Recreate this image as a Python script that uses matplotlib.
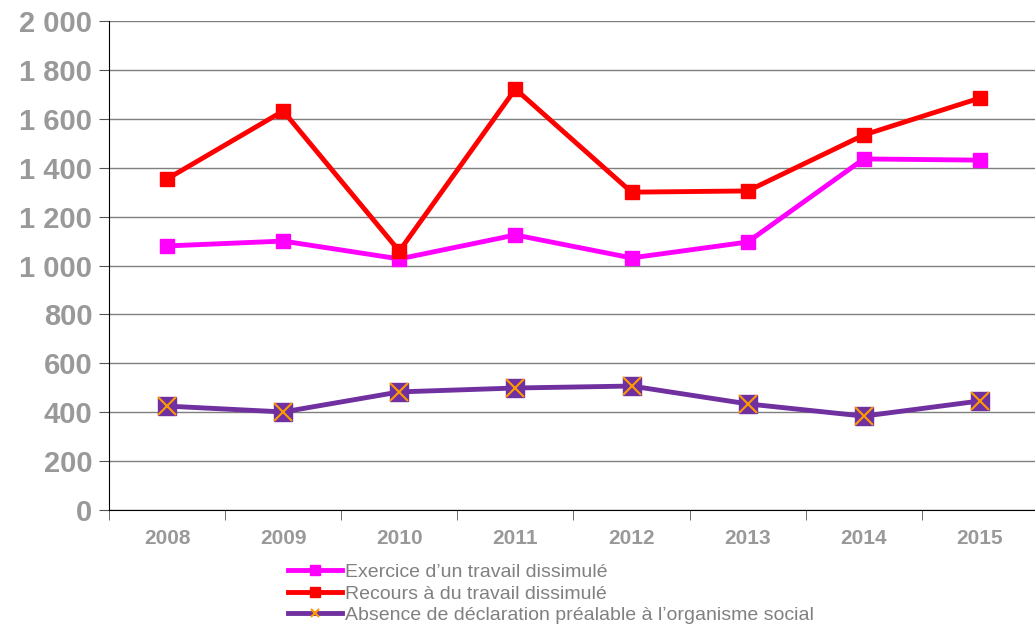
import matplotlib.pyplot as plt
from matplotlib.lines import Line2D
from matplotlib.ticker import FuncFormatter, FixedLocator

years = ["2008", "2009", "2010", "2011", "2012", "2013", "2014", "2015"]
exercice = [1080, 1100, 1027, 1125, 1031, 1096, 1436, 1431]
recours = [1354, 1632, 1059, 1722, 1300, 1305, 1534, 1685]
absence = [425, 401, 483, 499, 507, 434, 384, 446]

labels = ["Exercice d\u2019un travail dissimulé",
          "Recours à du travail dissimulé",
          "Absence de déclaration préalable à l\u2019organisme social"]

plt.rcParams['font.family'] = ['Liberation Sans', 'DejaVu Sans']

fig = plt.figure(figsize=(10.35, 6.24), dpi=100)
ax = fig.add_axes([0.1053, 0.1827, 0.8976, 0.7836])

x = list(range(len(years)))
ax.plot(x, exercice, color="#FF00FF", lw=3.5, marker="s", ms=10, zorder=3)
ax.plot(x, recours, color="#FF0000", lw=3.5, marker="s", ms=10, zorder=3)
ax.plot(x, absence, color="#7030A0", lw=3.5, marker="s", ms=13, zorder=3)
ax.plot(x, absence, ls="none", marker="x", ms=13, mew=1.5, color="#FF9900", zorder=4)

ax.set_xlim(-0.5, len(years) - 0.5)
ax.set_ylim(0, 2000)
ax.set_yticks(range(0, 2001, 200))
ax.yaxis.set_major_formatter(FuncFormatter(lambda v, p: f"{int(v):,}".replace(",", " ")))
ax.set_xticks(x)
ax.set_xticklabels(years)
ax.xaxis.set_minor_locator(FixedLocator([i - 0.5 for i in range(len(years) + 1)]))
ax.tick_params(axis="x", which="major", length=0, pad=14, labelsize=15, labelcolor="#999999")
ax.tick_params(axis="x", which="minor", length=7, direction="out", color="#555555")
ax.tick_params(axis="y", length=7, direction="out", color="#555555", labelsize=21, labelcolor="#999999", pad=5)
for t in ax.get_xticklabels() + ax.get_yticklabels():
    t.set_fontweight("bold")

ax.grid(axis="y", color="#7f7f7f", lw=1)
ax.set_axisbelow(True)
for s in ["top", "right"]:
    ax.spines[s].set_visible(False)
ax.spines["left"].set_color("black")
ax.spines["bottom"].set_color("black")

handles = [
    Line2D([], [], color="#FF00FF", lw=3.5, marker="s", ms=7),
    Line2D([], [], color="#FF0000", lw=3.5, marker="s", ms=7),
    Line2D([], [], color="#7030A0", lw=3.5, marker="x", ms=6, mec="#FF9900", mew=1.5),
]
leg = fig.legend(handles, labels, loc="upper left", bbox_to_anchor=(0.278, 0.097),
                 frameon=False, fontsize=14, handlelength=2.8, handletextpad=0.15,
                 labelspacing=0.2, borderaxespad=0, borderpad=0)
for t in leg.get_texts():
    t.set_color("#808080")

fig.savefig("out.png", dpi=100)
